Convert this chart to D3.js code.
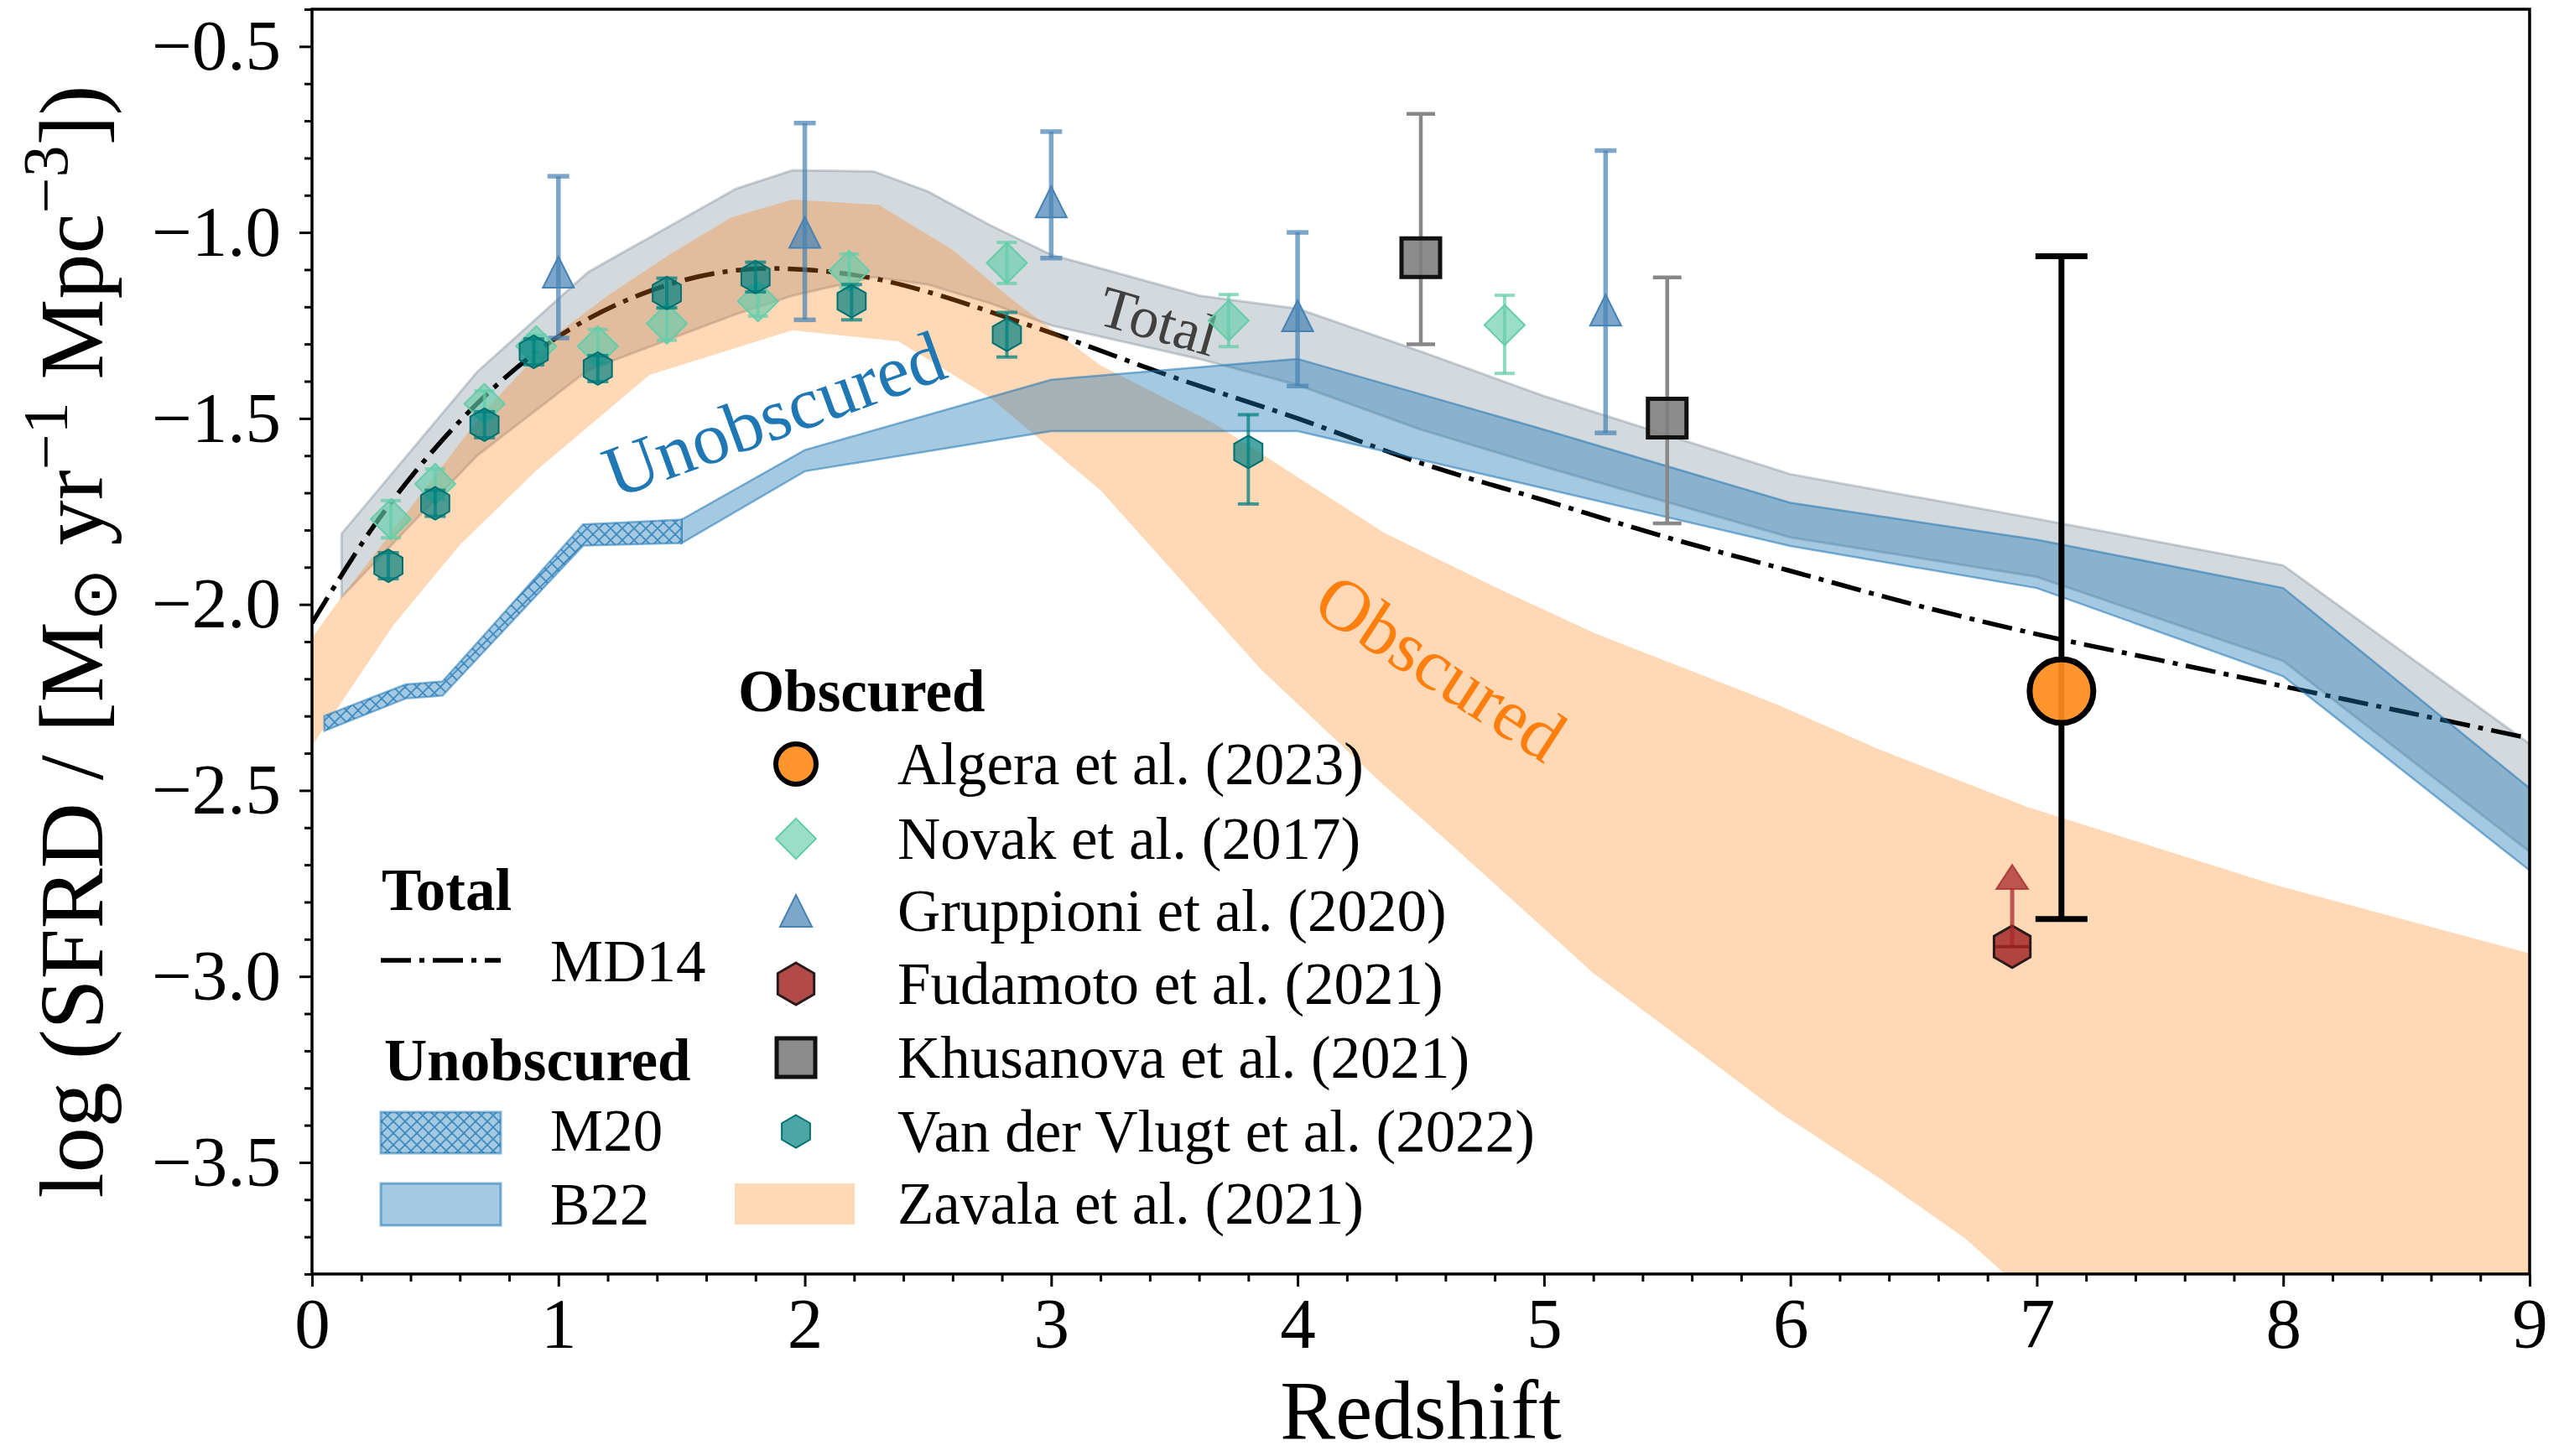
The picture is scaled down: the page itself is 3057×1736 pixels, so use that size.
<!DOCTYPE html>
<html><head><meta charset="utf-8">
<script src="https://cdnjs.cloudflare.com/ajax/libs/d3/7.8.5/d3.min.js"></script>
<style>body{margin:0;background:#fff}svg{display:block}</style>
</head><body><svg id="c" width="3057" height="1736"></svg>
<script>
// ---------------- DATA ----------------
const xTicks = [0,1,2,3,4,5,6,7,8,9];
const yTicks = [-3.5,-3.0,-2.5,-2.0,-1.5,-1.0,-0.5];

// MD14 total SFRD curve
const md14Z = [0,0.25,0.5,0.75,1,1.25,1.5,1.75,2,2.25,2.5,3,3.5,4,4.5,5,5.5,6,6.5,7,7.5,8,8.5,9];
const md14Y = [-2.05,-1.79,-1.58,-1.41,-1.28,-1.19,-1.13,-1.10,-1.10,-1.12,-1.16,-1.27,-1.39,-1.50,-1.62,-1.72,-1.82,-1.91,-2.00,-2.08,-2.15,-2.22,-2.29,-2.36];

// Total band (grey)
const totZ  = [0.12,0.67,1.12,1.72,1.95,2.28,2.5,2.75,3.0,3.6,4.0,4.5,5.0,6.0,7.0,8.0,9.0];
const totHi = [-1.81,-1.375,-1.107,-0.883,-0.833,-0.836,-0.89,-0.98,-1.06,-1.17,-1.205,-1.32,-1.44,-1.65,-1.77,-1.895,-2.375];
const totLo = [-1.98,-1.60,-1.37,-1.22,-1.17,-1.12,-1.14,-1.19,-1.25,-1.34,-1.41,-1.53,-1.63,-1.82,-1.926,-2.152,-2.665];

// Zavala et al. (2021) obscured band (orange)
const zavHiZ = [0,0.12,0.4,0.7,1.0,1.2,1.45,1.7,1.95,2.3,2.6,2.85,3.2,3.66,4.35,4.8,5.2,5.95,6.36,6.96,7.96,9.0];
const zavHi  = [-2.09,-1.98,-1.74,-1.48,-1.27,-1.17,-1.06,-0.96,-0.912,-0.926,-1.047,-1.185,-1.357,-1.513,-1.807,-1.953,-2.076,-2.27,-2.39,-2.544,-2.753,-2.938];
const zavLoZ = [0,0.33,0.6,0.91,1.37,1.95,2.38,2.75,3.2,3.85,4.35,4.59,5.2,5.65,5.95,6.36,6.71,6.86,7.5,9.0];
const zavLo  = [-2.38,-2.056,-1.84,-1.64,-1.383,-1.263,-1.293,-1.443,-1.693,-2.174,-2.486,-2.626,-2.991,-3.214,-3.363,-3.542,-3.705,-3.794,-4.1,-4.8];

// Unobscured: M20 (hatched) and B22
const m20Z  = [0.05,0.38,0.53,1.1,1.5];
const m20Hi = [-2.30,-2.215,-2.207,-1.785,-1.772];
const m20Lo = [-2.34,-2.253,-2.245,-1.842,-1.835];
const b22Z  = [1.5,2.0,3.0,4.0,5.0,6.0,7.0,8.0,9.0];
const b22Hi = [-1.772,-1.585,-1.396,-1.34,-1.53,-1.727,-1.826,-1.956,-2.494];
const b22Lo = [-1.835,-1.642,-1.534,-1.534,-1.688,-1.843,-1.956,-2.193,-2.715];

// Van der Vlugt et al. (2022)
const vdvZ  = [0.31,0.50,0.70,0.90,1.16,1.44,1.80,2.19,2.82,3.80];
const vdvY  = [-1.896,-1.728,-1.517,-1.321,-1.366,-1.163,-1.120,-1.185,-1.275,-1.590];
const vdvUp = [0.035,0.035,0.035,0.035,0.035,0.04,0.04,0.045,0.06,0.10];
const vdvDn = [0.035,0.035,0.035,0.035,0.035,0.04,0.04,0.05,0.06,0.14];

// Novak et al. (2017)
const novZ  = [0.32,0.50,0.70,0.91,1.16,1.44,1.81,2.18,2.82,3.72,4.84];
const novY  = [-1.771,-1.676,-1.461,-1.306,-1.306,-1.245,-1.185,-1.103,-1.082,-1.237,-1.249];
const novUp = [0.05,0.04,0.035,0.03,0.045,0.045,0.04,0.045,0.055,0.07,0.08];
const novDn = [0.05,0.04,0.035,0.03,0.045,0.045,0.04,0.045,0.055,0.07,0.13];

// Gruppioni et al. (2020)
const grZ  = [1.0,2.0,3.0,4.0,5.25];
const grY  = [-1.107,-1.0,-0.918,-1.224,-1.209];
const grHi = [-0.849,-0.706,-0.729,-1.0,-0.78];
const grLo = [-1.284,-1.235,-1.069,-1.413,-1.539];

// Khusanova et al. (2021)
const khZ  = [4.5,5.5];
const khY  = [-1.068,-1.499];
const khHi = [-0.681,-1.121];
const khLo = [-1.301,-1.782];

// Fudamoto et al. (2021) lower limit
const fuZ = [6.9];
const fuY = [-2.92];
const fuLim = [-2.70];

// Algera et al. (2023)
const alZ  = [7.1];
const alY  = [-2.233];
const alHi = [-1.064];
const alLo = [-2.846];

// In-plot annotations
const annText  = ["Unobscured","Total","Obscured"];
const annZ     = [1.23,3.18,4.05];
const annY     = [-1.716,-1.245,-2.02];

// Legend labels
const legObsLabels = ["Algera et al. (2023)","Novak et al. (2017)","Gruppioni et al. (2020)","Fudamoto et al. (2021)","Khusanova et al. (2021)","Van der Vlugt et al. (2022)","Zavala et al. (2021)"];

// ---------------- DRAWING ----------------
const W=3057,H=1736;
const M={l:372,r:3016,t:11,b:1519};
const FONT="'Liberation Serif','Times New Roman',Times,serif";
const x=d3.scaleLinear().domain([0,9]).range([M.l,M.r]);
const y=d3.scaleLinear().domain([-3.8,-0.4]).range([M.b,M.t]);
const svg=d3.select('#c');
svg.append('rect').attr('width',W).attr('height',H).attr('fill','#fff');
const defs=svg.append('defs');
defs.append('clipPath').attr('id','clip').append('rect')
  .attr('x',M.l).attr('y',M.t).attr('width',M.r-M.l).attr('height',M.b-M.t);
const pat=defs.append('pattern').attr('id','hatch').attr('patternUnits','userSpaceOnUse')
  .attr('width',14).attr('height',14);
pat.append('rect').attr('width',14).attr('height',14).attr('fill','rgb(165,201,225)');
pat.append('path').attr('d','M0,0L14,14M14,0L0,14M-7,7L7,21M7,-7L21,7M21,7L7,21M7,-7L-7,7')
  .attr('stroke','rgba(31,119,180,0.75)').attr('stroke-width',1.8);

const C0='#1f77b4', C1='#ff7f0e';
const plot=svg.append('g').attr('clip-path','url(#clip)');

function bandData(zs,lo,hi){return zs.map((z,i)=>({z,lo:lo[i],hi:hi[i]}));}
const area=d3.area().x(d=>x(d.z)).y0(d=>y(d.lo)).y1(d=>y(d.hi));

// Grey total band
plot.append('path').datum(bandData(totZ,totLo,totHi)).attr('d',area)
  .attr('fill','rgba(112,128,144,0.3)').attr('stroke','rgba(112,128,144,0.35)').attr('stroke-width',3);

// MD14 line
const md=md14Z.map((z,i)=>({z,v:md14Y[i]}));
plot.append('path').datum(md)
  .attr('d',d3.line().x(d=>x(d.z)).y(d=>y(d.v)).curve(d3.curveCatmullRom.alpha(0.5)))
  .attr('fill','none').attr('stroke','#000').attr('stroke-width',5.5)
  .attr('stroke-dasharray','36,10,6,10');

// Zavala orange band (upper and lower edges on separate grids)
const zavPoly=zavHiZ.map((z,i)=>[x(z),y(zavHi[i])])
  .concat(zavLoZ.map((z,i)=>[x(z),y(zavLo[i])]).reverse());
plot.append('path').attr('d','M'+zavPoly.map(p=>p.join(',')).join('L')+'Z')
  .attr('fill','rgba(255,127,14,0.3)');

// B22 band
plot.append('path').datum(bandData(b22Z,b22Lo,b22Hi)).attr('d',area)
  .attr('fill','rgba(31,119,180,0.4)').attr('stroke','rgba(31,119,180,0.55)').attr('stroke-width',2.5);
// M20 hatched band
plot.append('path').datum(bandData(m20Z,m20Lo,m20Hi)).attr('d',area)
  .attr('fill','url(#hatch)').attr('stroke','rgba(31,119,180,0.55)').attr('stroke-width',2.5);

// Annotations
const annColor=[C0,'#404040',C1], annSize=[88,70,87], annRot=[-20,16,33];
annText.forEach((t,i)=>{
  svg.append('text').text(t)
    .attr('transform',`translate(${x(annZ[i])},${y(annY[i])}) rotate(${annRot[i]})`)
    .attr('font-family',FONT).attr('font-size',annSize[i]).attr('fill',annColor[i]);
});

// ---- marker helpers
function poly(pts){return 'M'+pts.map(p=>p.join(',')).join('L')+'Z';}
function markerPath(type,cx,cy,s){
  if(type==='D') return poly([[cx,cy-s],[cx+s,cy],[cx,cy+s],[cx-s,cy]]);
  if(type==='^') return poly([[cx,cy-s],[cx-s,cy+s],[cx+s,cy+s]]);
  if(type==='s') return poly([[cx-s,cy-s],[cx+s,cy-s],[cx+s,cy+s],[cx-s,cy+s]]);
  if(type==='h'){const p=[];for(let k=0;k<6;k++){const a=(-90+60*k)*Math.PI/180;p.push([cx+s*Math.cos(a),cy+s*Math.sin(a)]);}return poly(p);}
  return '';
}
function drawMarker(g,type,cx,cy,s,fill,op,stroke,sw){
  if(type==='o'){
    g.append('circle').attr('cx',cx).attr('cy',cy).attr('r',s)
      .attr('fill',fill).attr('fill-opacity',op).attr('stroke',stroke).attr('stroke-width',sw);
  } else {
    g.append('path').attr('d',markerPath(type,cx,cy,s))
      .attr('fill',fill).attr('fill-opacity',op).attr('stroke',stroke).attr('stroke-width',sw)
      .attr('stroke-linejoin','miter');
  }
}
function errbar(g,cx,yTop,yBot,cap,col,op,lw){
  g.append('line').attr('x1',cx).attr('x2',cx).attr('y1',yTop).attr('y2',yBot)
    .attr('stroke',col).attr('stroke-opacity',op).attr('stroke-width',lw);
  [yTop,yBot].forEach(v=>g.append('line').attr('x1',cx-cap).attr('x2',cx+cap).attr('y1',v).attr('y2',v)
    .attr('stroke',col).attr('stroke-opacity',op).attr('stroke-width',lw));
}

const pts=svg.append('g');
// Gruppioni
grZ.forEach((z,i)=>{
  errbar(pts,x(z),y(grHi[i]),y(grLo[i]),13,'#4682b4',0.7,5.5);
  drawMarker(pts,'^',x(z),y(grY[i]),18.5,'#4682b4',0.7,'#4682b4',2);
});
// Novak
novZ.forEach((z,i)=>{
  errbar(pts,x(z),y(novY[i]+novUp[i]),y(novY[i]-novDn[i]),12,'#66cdaa',0.75,4);
  drawMarker(pts,'D',x(z),y(novY[i]),24,'#66cdaa',0.65,'#66cdaa',2);
});
// Van der Vlugt
vdvZ.forEach((z,i)=>{
  errbar(pts,x(z),y(vdvY[i]+vdvUp[i]),y(vdvY[i]-vdvDn[i]),12.5,'#008080',0.75,4);
  drawMarker(pts,'h',x(z),y(vdvY[i]),19.5,'#008080',0.7,'#007070',2);
});
// Khusanova
khZ.forEach((z,i)=>{
  errbar(pts,x(z),y(khHi[i]),y(khLo[i]),17,'#888888',1,4.5);
  drawMarker(pts,'s',x(z),y(khY[i]),23,'#808080',0.9,'#111',5);
});
// Fudamoto (lower limit)
fuZ.forEach((z,i)=>{
  const cx=x(z), cy=y(fuY[i]), ty=y(fuLim[i]);
  drawMarker(pts,'h',cx,cy,25,'#a52a2a',0.85,'#2a1a1a',3);
  pts.append('line').attr('x1',cx).attr('x2',cx).attr('y1',cy).attr('y2',ty+28)
    .attr('stroke','#a52a2a').attr('stroke-opacity',0.75).attr('stroke-width',5);
  pts.append('line').attr('x1',cx-20).attr('x2',cx+20).attr('y1',cy).attr('y2',cy)
    .attr('stroke','#8b1a1a').attr('stroke-opacity',0.75).attr('stroke-width',4);
  pts.append('path').attr('d',poly([[cx,ty],[cx-19,ty+29],[cx+19,ty+29]]))
    .attr('fill','#a52a2a').attr('fill-opacity',0.75).attr('stroke','#a52a2a').attr('stroke-opacity',0.75).attr('stroke-width',2);
});
// Algera
alZ.forEach((z,i)=>{
  errbar(pts,x(z),y(alHi[i]),y(alLo[i]),31,'#000',1,7);
  drawMarker(pts,'o',x(z),y(alY[i]),38,'#ff8c1a',0.92,'#000',7);
});

// ---------------- AXES ----------------
const axG=svg.append('g');
const xMinor=d3.range(0,9.001,0.2).filter(v=>Math.abs(v-Math.round(v))>1e-6);
const yMinor=d3.range(-3.8,-0.399,0.1).map(v=>+v.toFixed(2)).filter(v=>Math.abs(v*2-Math.round(v*2))>1e-6);
const xa=axG.append('g').attr('transform',`translate(0,${M.b})`)
  .call(d3.axisBottom(x).tickValues(xTicks).tickSize(15).tickPadding(13).tickFormat(d3.format('d')));
const xm=axG.append('g').attr('transform',`translate(0,${M.b})`)
  .call(d3.axisBottom(x).tickValues(xMinor).tickSize(9).tickFormat(''));
const ya=axG.append('g').attr('transform',`translate(${M.l},0)`)
  .call(d3.axisLeft(y).tickValues(yTicks).tickSize(15).tickPadding(22).tickFormat(d3.format('.1f')));
const ym=axG.append('g').attr('transform',`translate(${M.l},0)`)
  .call(d3.axisLeft(y).tickValues(yMinor).tickSize(9).tickFormat(''));
[xa,xm,ya,ym].forEach(g=>{g.select('.domain').remove();g.selectAll('line').attr('stroke','#000').attr('stroke-width',3);
  g.selectAll('text').attr('font-family',FONT).attr('font-size',85).attr('fill','#000');});
axG.append('rect').attr('x',M.l).attr('y',M.t).attr('width',M.r-M.l).attr('height',M.b-M.t)
  .attr('fill','none').attr('stroke','#000').attr('stroke-width',3.5);

// axis labels
svg.append('text').text('Redshift').attr('x',(M.l+M.r)/2).attr('y',1714.5).attr('text-anchor','middle')
  .attr('font-family',FONT).attr('font-size',99);
const yl=svg.append('text').attr('transform',`translate(122,${(M.t+M.b)/2}) rotate(-90)`)
  .attr('text-anchor','middle').attr('font-family',FONT).attr('font-size',108);
yl.append('tspan').text('log (SFRD / [M');
yl.append('tspan').attr('font-size',76).attr('dy',16).text('⊙');
yl.append('tspan').attr('dy',-16).text(' yr');
yl.append('tspan').attr('font-size',76).attr('dy',-42).text('−1');
yl.append('tspan').attr('dy',42).text(' Mpc');
yl.append('tspan').attr('font-size',76).attr('dy',-42).text('−3');
yl.append('tspan').attr('dy',42).text('])');

// ---------------- LEGENDS ----------------
const lg=svg.append('g').attr('font-family',FONT).attr('font-size',71);
lg.append('text').text('Total').attr('x',455).attr('y',1085).attr('font-weight','bold');
lg.append('line').attr('x1',454).attr('x2',597).attr('y1',1145).attr('y2',1145)
  .attr('stroke','#000').attr('stroke-width',5.5).attr('stroke-dasharray','36,10,6,10');
lg.append('text').text('MD14').attr('x',656).attr('y',1170);
lg.append('text').text('Unobscured').attr('x',458).attr('y',1288).attr('font-weight','bold');
lg.append('rect').attr('x',454).attr('y',1326).attr('width',143).attr('height',49)
  .attr('fill','url(#hatch)').attr('stroke','rgba(31,119,180,0.55)').attr('stroke-width',3);
lg.append('text').text('M20').attr('x',656).attr('y',1372);
lg.append('rect').attr('x',454).attr('y',1411).attr('width',143).attr('height',50)
  .attr('fill','rgba(31,119,180,0.4)').attr('stroke','rgba(31,119,180,0.55)').attr('stroke-width',3);
lg.append('text').text('B22').attr('x',656).attr('y',1460);

lg.append('text').text('Obscured').attr('x',880).attr('y',848).attr('font-weight','bold');
const rowY=[911,1000,1086,1173,1261,1349,1435];
const mk=lg.append('g');
drawMarker(mk,'o',949,rowY[0],24,'#ff8c1a',0.92,'#000',6);
drawMarker(mk,'D',949,rowY[1],24,'#66cdaa',0.65,'#66cdaa',2);
drawMarker(mk,'^',949,rowY[2],19,'#4682b4',0.7,'#4682b4',2);
drawMarker(mk,'h',949,rowY[3],25,'#a52a2a',0.85,'#2a1a1a',3);
drawMarker(mk,'s',949,rowY[4],23,'#808080',0.9,'#111',5);
drawMarker(mk,'h',949,rowY[5],19.5,'#008080',0.7,'#007070',2);
mk.append('rect').attr('x',876).attr('y',1411).attr('width',143).attr('height',49).attr('fill','rgba(255,127,14,0.3)');
legObsLabels.forEach((t,i)=>lg.append('text').text(t).attr('x',1070).attr('y',rowY[i]+24));
</script></body></html>
